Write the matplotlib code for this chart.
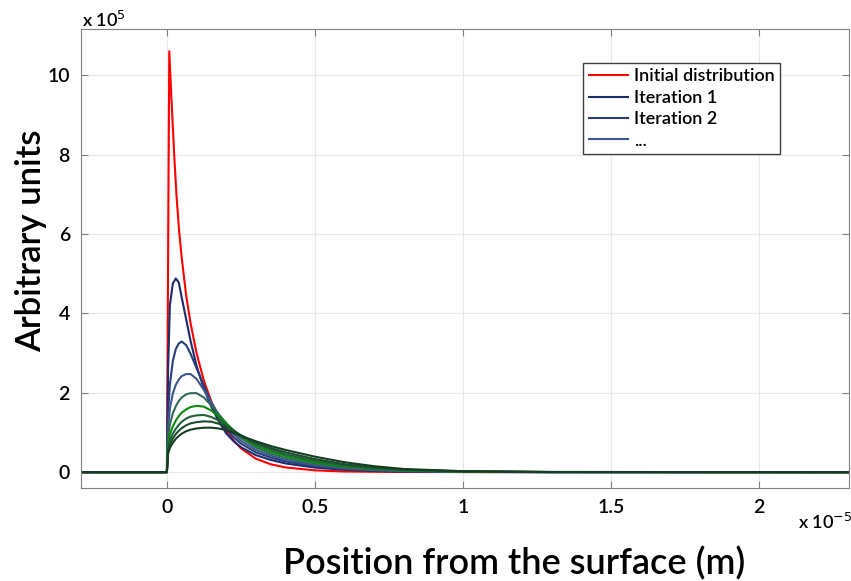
import matplotlib
matplotlib.use('Agg')
import matplotlib.pyplot as plt

plt.rcParams['font.family'] = ['Lato', 'DejaVu Sans']

# position in units of 1e-5 m, values in units of 1e5
x_init = [-0.29, 0, 0.008, 0.015, 0.02, 0.026, 0.033, 0.041, 0.05, 0.065, 0.08, 0.1, 0.125,
          0.15, 0.175, 0.2, 0.225, 0.25, 0.3, 0.35, 0.4, 0.5, 0.6, 0.8, 2.3]
y_init = [0, 0, 10.6, 9.45, 8.7, 7.8, 6.9, 6.1, 5.4, 4.45, 3.75, 3.0, 2.3,
          1.78, 1.38, 1.05, 0.8, 0.6, 0.34, 0.2, 0.12, 0.045, 0.017, 0.003, 0]

x_iter = [-0.29, 0, 0.004, 0.01, 0.02, 0.03, 0.04, 0.05, 0.065, 0.08, 0.1, 0.125, 0.15,
          0.175, 0.2, 0.225, 0.25, 0.3, 0.35, 0.4, 0.5, 0.6, 0.7, 0.8, 1.0, 1.3, 2.3]
iter1 = [0, 0, 2.6, 4.2, 4.75, 4.88, 4.78, 4.4, 3.85, 3.3, 2.68, 2.1, 1.65,
         1.28, 0.98, 0.78, 0.63, 0.43, 0.31, 0.22, 0.115, 0.058, 0.03, 0.015, 0.004, 0.001, 0]
iter2 = [0, 0, 1.5, 2.2, 2.8, 3.1, 3.24, 3.29, 3.2, 2.98, 2.62, 2.18, 1.75,
         1.4, 1.1, 0.88, 0.72, 0.5, 0.37, 0.27, 0.145, 0.075, 0.04, 0.02, 0.005, 0.001, 0]
iter3 = [0, 0, 1.1, 1.6, 1.98, 2.2, 2.33, 2.42, 2.47, 2.47, 2.35, 2.07, 1.75,
         1.45, 1.18, 0.96, 0.79, 0.56, 0.42, 0.31, 0.175, 0.095, 0.052, 0.028, 0.008, 0.001, 0]
iter4 = [0, 0, 0.88, 1.2, 1.48, 1.66, 1.79, 1.88, 1.96, 1.99, 1.99, 1.88, 1.68,
         1.46, 1.24, 1.03, 0.86, 0.62, 0.47, 0.36, 0.21, 0.12, 0.068, 0.036, 0.01, 0.002, 0]
iter5 = [0, 0, 0.72, 0.95, 1.15, 1.3, 1.41, 1.5, 1.58, 1.64, 1.67, 1.65, 1.55,
         1.4, 1.23, 1.06, 0.9, 0.67, 0.52, 0.41, 0.25, 0.145, 0.085, 0.045, 0.013, 0.002, 0]
iter6 = [0, 0, 0.62, 0.8, 0.97, 1.09, 1.19, 1.27, 1.35, 1.4, 1.43, 1.44, 1.39,
         1.3, 1.18, 1.05, 0.92, 0.71, 0.57, 0.45, 0.29, 0.17, 0.1, 0.055, 0.017, 0.003, 0]
iter7 = [0, 0, 0.54, 0.7, 0.85, 0.96, 1.04, 1.11, 1.18, 1.23, 1.26, 1.28, 1.27,
         1.22, 1.14, 1.04, 0.93, 0.75, 0.61, 0.5, 0.33, 0.2, 0.12, 0.065, 0.02, 0.004, 0]
iter8 = [0, 0, 0.47, 0.61, 0.74, 0.84, 0.91, 0.97, 1.03, 1.07, 1.1, 1.12, 1.12,
         1.1, 1.06, 0.99, 0.91, 0.78, 0.66, 0.56, 0.39, 0.25, 0.15, 0.08, 0.025, 0.005, 0]

iterations = [iter1, iter2, iter3, iter4, iter5, iter6, iter7, iter8]
iter_colors = ['#1c2a6e', '#263e78', '#3b5690', '#2f6b55', '#0a8a0a', '#22603a', '#1a4d2c', '#163d24']
iter_labels = ['Iteration 1', 'Iteration 2', '...']

fig = plt.figure(figsize=(8.51, 5.81), dpi=100)
ax = fig.add_axes([0.0952, 0.160, 0.9024, 0.790])

ax.plot(x_init, y_init, color='#ff0000', lw=1.5, label='Initial distribution')
for i, (vals, col) in enumerate(zip(iterations, iter_colors)):
    lab = iter_labels[i] if i < len(iter_labels) else None
    ax.plot(x_iter, vals, color=col, lw=1.5, label=lab)

ax.set_xlim(-0.29, 2.303)
ax.set_ylim(-0.4, 11.16)
ax.set_xticks([0, 0.5, 1, 1.5, 2])
ax.set_xticklabels(['0', '0.5', '1', '1.5', '2'])
ax.set_yticks([0, 2, 4, 6, 8, 10])
ax.grid(True, color='#e8e8e8', lw=0.8)
ax.set_axisbelow(True)
for s in ax.spines.values():
    s.set_color('#808080')
ax.tick_params(direction='in', top=True, right=True, color='#808080', labelsize=14,
               length=5, pad=8)
for t in ax.get_xticklabels() + ax.get_yticklabels():
    t.set_fontweight('semibold')

fig.text(0.604, 0.031, 'Position from the surface (m)', fontsize=26, fontweight='semibold',
         ha='center', va='center')
fig.text(0.036, 0.585, 'Arbitrary units', fontsize=25, fontweight='semibold',
         ha='center', va='center', rotation=90)

fig.text(0.096, 0.966, r'x 10$^{5}$', fontsize=13, fontweight='semibold', ha='left', va='center')
fig.text(0.938, 0.102, r'x 10$^{-5}$', fontsize=13, fontweight='semibold', ha='left', va='center')

leg = ax.legend(loc='upper right', bbox_to_anchor=(0.910, 0.926), fontsize=13, fancybox=False,
                framealpha=1, edgecolor='#404040', borderpad=0.3, labelspacing=0.3,
                handlelength=2.2, handletextpad=0.3, borderaxespad=0)
leg.get_frame().set_linewidth(1.0)
for t in leg.get_texts():
    t.set_fontweight('semibold')

fig.savefig('out.png', dpi=100)
